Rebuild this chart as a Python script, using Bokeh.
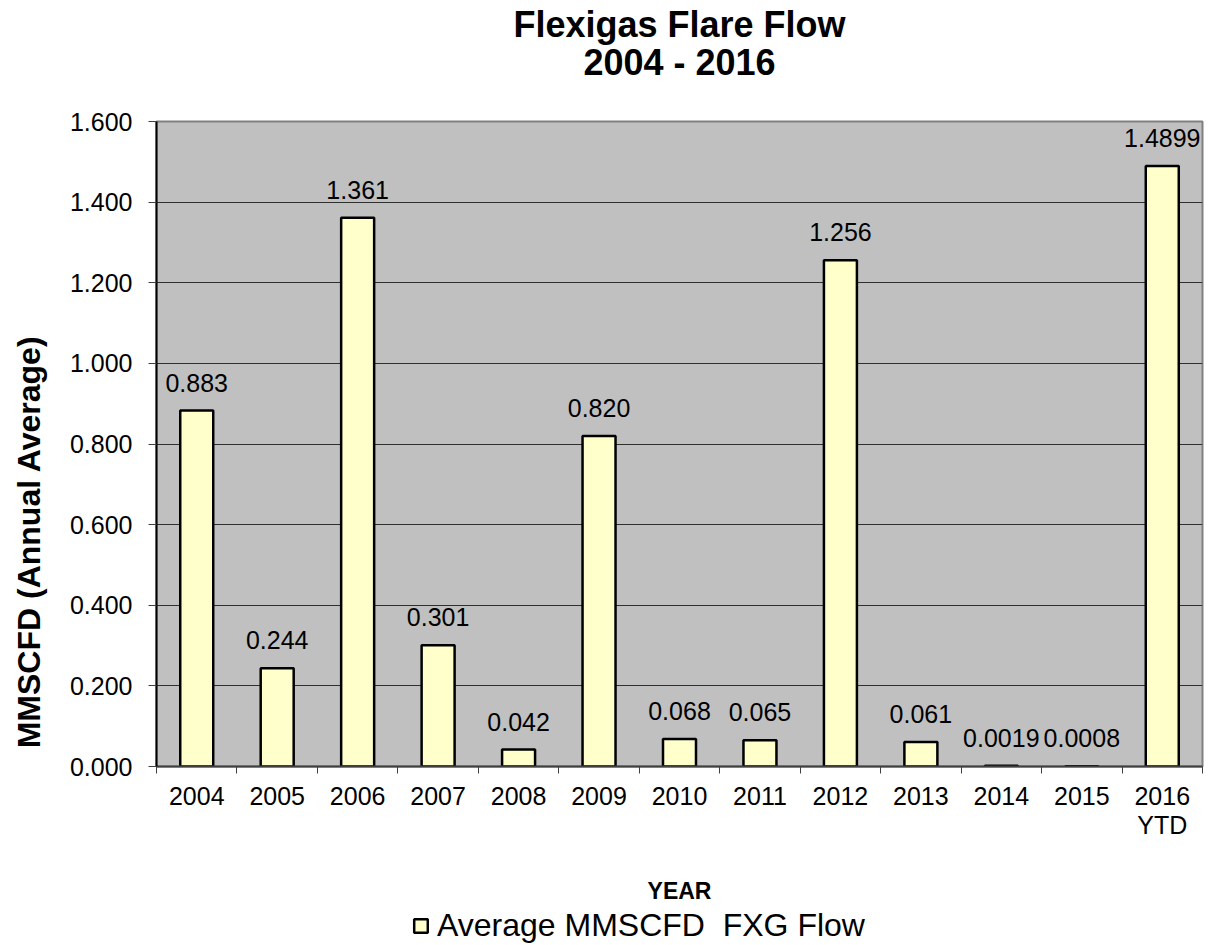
from bokeh.plotting import figure
from bokeh.layouts import column
from bokeh.models import (Range1d, LinearAxis, FixedTicker, NumeralTickFormatter,
                          Title, Legend, LegendItem, ColumnDataSource)
from bokeh.core.properties import value
from bokeh.embed import file_html
from bokeh.resources import INLINE

years = ["2004", "2005", "2006", "2007", "2008", "2009", "2010", "2011",
         "2012", "2013", "2014", "2015", "2016"]
flow = [0.883, 0.244, 1.361, 0.301, 0.042, 0.820, 0.068, 0.065,
        1.256, 0.061, 0.0019, 0.0008, 1.4899]
flow_labels = ["0.883", "0.244", "1.361", "0.301", "0.042", "0.820", "0.068",
               "0.065", "1.256", "0.061", "0.0019", "0.0008", "1.4899"]
tick_text = ["2004", "2005", "2006", "2007", "2008", "2009", "2010", "2011",
             "2012", "2013", "2014", "2015", "2016\nYTD"]
y_ticks = [0.0, 0.2, 0.4, 0.6, 0.8, 1.0, 1.2, 1.4, 1.6]
series_name = "Average MMSCFD  FXG Flow"

FONT = "Liberation Sans"
NBSP = "\u00a0"
BAR_FILL = "#FFFFCC"

src = ColumnDataSource(dict(year=years, flow=flow, lab=flow_labels))

p = figure(width=1205, height=906, x_range=years, y_range=Range1d(0, 1.6),
           output_backend="svg", toolbar_location=None, x_axis_location=None,
           min_border_left=156, min_border_right=3, min_border_top=121,
           min_border_bottom=139)
p.border_fill_color = "white"
p.background_fill_color = "#C0C0C0"
p.outline_line_color = "#808080"
p.outline_line_width = 2

# bars
bars = p.vbar(x="year", top="flow", width=0.41, source=src,
              fill_color=BAR_FILL, line_color="black", line_width=2.5)

# value labels
p.text(x="year", y="flow", text="lab", source=src, text_align="center",
       text_baseline="alphabetic", y_offset=-28,
       text_font=value(FONT), text_font_size="25px", text_color="black")

# y axis
ya = p.yaxis[0]
ya.ticker = FixedTicker(ticks=y_ticks)
ya.formatter = NumeralTickFormatter(format="0.000")
ya.axis_label = "MMSCFD (Annual Average)" + NBSP * 22
ya.axis_label_text_font = FONT
ya.axis_label_text_font_style = "bold"
ya.axis_label_text_font_size = "32px"
ya.axis_label_text_color = "black"
ya.axis_label_standoff = 20
ya.major_label_text_font = FONT
ya.major_label_text_font_size = "25px"
ya.major_label_text_color = "black"
ya.major_label_standoff = 16
ya.major_tick_in = 0
ya.major_tick_out = 8
ya.minor_tick_line_color = None
ya.axis_line_color = "black"
ya.axis_line_width = 2
ya.major_tick_line_color = "#404040"

p.xgrid.grid_line_color = None
p.ygrid.ticker = FixedTicker(ticks=y_ticks)
p.ygrid.grid_line_color = "#303030"
p.ygrid.grid_line_width = 1

# x axis: labels at category centres, tick marks at category boundaries
centres = [i + 0.5 for i in range(len(years))]
bounds = [float(i) for i in range(len(years) + 1)]
xa = LinearAxis(ticker=FixedTicker(ticks=centres, minor_ticks=bounds),
                major_label_overrides={c: t for c, t in zip(centres, tick_text)})
xa.major_tick_line_color = None
xa.minor_tick_in = 0
xa.minor_tick_out = 7
xa.minor_tick_line_color = "#404040"
xa.axis_line_color = "#404040"
xa.axis_line_width = 2
xa.major_label_text_font = FONT
xa.major_label_text_font_size = "25px"
xa.major_label_text_color = "black"
xa.major_label_text_line_height = 1.05
xa.major_label_standoff = 8
xa.axis_label = "YEAR"
xa.axis_label_text_font = FONT
xa.axis_label_text_font_style = "bold"
xa.axis_label_text_font_size = "23px"
xa.axis_label_text_color = "black"
xa.axis_label_standoff = 36
p.add_layout(xa, "below")

# title (two lines, second one padded so it sits centred)
title = Title(text="Flexigas Flare Flow\n" + NBSP * 7 + "2004 - 2016", align="center",
              text_font=FONT, text_font_size="36px", text_font_style="bold",
              text_color="black", text_line_height=0.945, standoff=0,
              padding=dict(left=0, right=0, top=1, bottom=38))
p.add_layout(title, "above")

# legend strip under the chart
p2 = figure(width=1205, height=39, x_range=years, y_range=Range1d(0, 1.6),
            output_backend="svg", toolbar_location=None,
            x_axis_location=None, y_axis_location=None,
            min_border_left=0, min_border_right=0, min_border_top=0,
            min_border_bottom=0)
p2.outline_line_color = None
p2.background_fill_color = "white"
p2.border_fill_color = "white"
p2.xgrid.grid_line_color = None
p2.ygrid.grid_line_color = None
leg_bars = p2.vbar(x="year", top="flow", width=0.41, source=src,
                   fill_color=BAR_FILL, line_color="black", line_width=2.5)
leg_bars.visible = False
legend = Legend(items=[LegendItem(label=series_name, renderers=[leg_bars])],
                location=(256, 1), orientation="horizontal",
                label_text_font=FONT, label_text_font_size="32px",
                label_text_color="black",
                glyph_width=17, glyph_height=17, padding=0, margin=0,
                label_standoff=8, border_line_color=None,
                background_fill_alpha=0)
p2.add_layout(legend, "center")

layout = column(p, p2, spacing=0)
open("out.html", "w").write(file_html(layout, INLINE))
